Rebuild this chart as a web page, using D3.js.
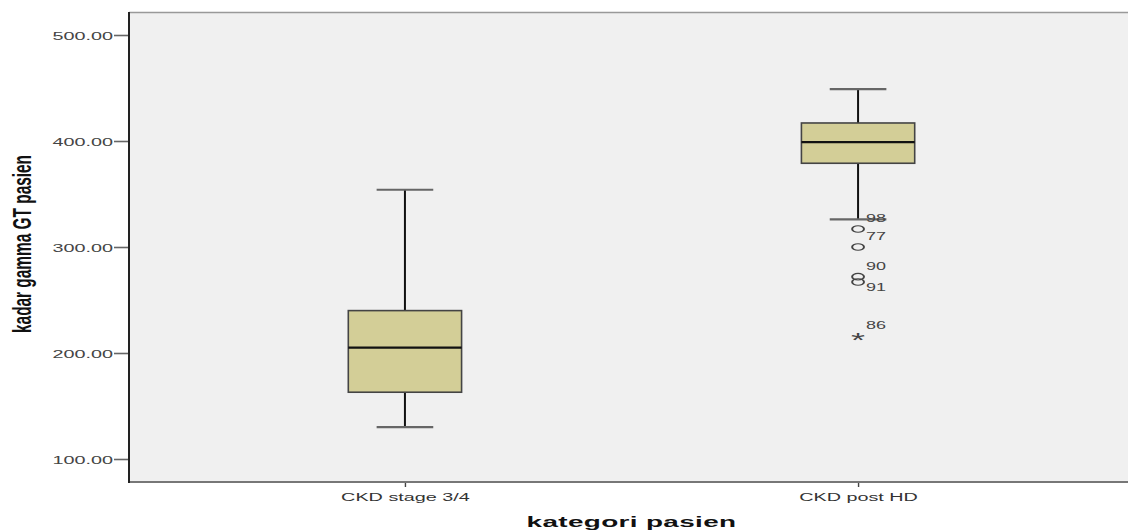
<!DOCTYPE html>
<html>
<head>
<meta charset="utf-8">
<script src="https://cdn.jsdelivr.net/npm/d3@7"></script>
<style>
  html, body { margin: 0; padding: 0; background: #fff; }
  svg { display: block; }
</style>
</head>
<body>
<svg id="chart" width="1128" height="531"></svg>
<script>
// ---- data ----
const categories = ["CKD stage 3/4", "CKD post HD"];
const whiskerLow  = [130, 326];
const q1          = [163, 379];
const median      = [205, 399];
const q3          = [240, 417];
const whiskerHigh = [354, 449];

const outlierCat    = ["CKD post HD", "CKD post HD", "CKD post HD", "CKD post HD", "CKD post HD"];
const outlierIds    = ["98", "77", "90", "91", "86"];
const outlierValues = [317, 300, 272, 267, 216];
const outlierKind   = ["circle", "circle", "circle", "circle", "star"];

const yTicks = [100, 200, 300, 400, 500];
const yTitle = "kadar gamma GT pasien";
const xTitle = "kategori pasien";

// ---- layout ----
const W = 1128, H = 531;
const plotLeft = 129, plotRight = 1134, plotTop = 12, plotBottom = 482;
const SX = 1.8; // horizontal stretch of the original image

const svg = d3.select("#chart");

const x = d3.scalePoint().domain(categories).range([plotLeft, plotRight]).padding(0.609);
const y = d3.scaleLinear().domain([100, 500]).range([459, 35]);
const step = x.step();
const boxW = step * 0.25;
const capW = boxW / 2;

// plot background
svg.append("rect")
  .attr("x", plotLeft).attr("y", plotTop)
  .attr("width", W - plotLeft + 10).attr("height", plotBottom - plotTop)
  .attr("fill", "#f0f0f0");

// top border
svg.append("line")
  .attr("x1", plotLeft).attr("x2", W + 10)
  .attr("y1", plotTop + 0.5).attr("y2", plotTop + 0.5)
  .attr("stroke", "#999").attr("stroke-width", 1.6);

// ---- boxes ----
const g = svg.append("g");
categories.forEach((c, i) => {
  const cx = x(c);
  g.append("line").attr("x1", cx).attr("x2", cx)
    .attr("y1", y(q3[i])).attr("y2", y(whiskerHigh[i]))
    .attr("stroke", "#111").attr("stroke-width", 2);
  g.append("line").attr("x1", cx).attr("x2", cx)
    .attr("y1", y(q1[i])).attr("y2", y(whiskerLow[i]))
    .attr("stroke", "#111").attr("stroke-width", 2);
  [whiskerHigh[i], whiskerLow[i]].forEach(v => {
    g.append("line").attr("x1", cx - capW / 2).attr("x2", cx + capW / 2)
      .attr("y1", y(v)).attr("y2", y(v))
      .attr("stroke", "#666").attr("stroke-width", 2.2);
  });
  g.append("rect")
    .attr("x", cx - boxW / 2).attr("y", y(q3[i]))
    .attr("width", boxW).attr("height", y(q1[i]) - y(q3[i]))
    .attr("fill", "#d3ce97").attr("stroke", "#444").attr("stroke-width", 1.6);
  g.append("line").attr("x1", cx - boxW / 2).attr("x2", cx + boxW / 2)
    .attr("y1", y(median[i])).attr("y2", y(median[i]))
    .attr("stroke", "#111").attr("stroke-width", 2.2);
});

// ---- outliers ----
let prevY = null;
outlierValues.forEach((v, i) => {
  const cx = x(outlierCat[i]);
  const cy = y(v);
  if (outlierKind[i] === "circle") {
    g.append("circle")
      .attr("r", 3.3)
      .attr("transform", `translate(${cx},${cy}) scale(${SX},1)`)
      .attr("fill", "none").attr("stroke", "#444").attr("stroke-width", 1.1);
  } else {
    g.append("text")
      .attr("transform", `translate(${cx},${cy + 11}) scale(${SX},1)`)
      .attr("text-anchor", "middle")
      .attr("font-family", "Liberation Sans, Arial, sans-serif")
      .attr("font-size", 20)
      .attr("fill", "#444")
      .text("*");
  }
  const below = prevY !== null && Math.abs(cy - prevY) < 8;
  const ly = below ? cy + 9 : cy - 7;
  g.append("text")
    .attr("transform", `translate(${cx + 8},${ly}) scale(${SX},1)`)
    .attr("font-family", "Liberation Sans, Arial, sans-serif")
    .attr("font-size", 10)
    .attr("fill", "#444")
    .text(outlierIds[i]);
  prevY = cy;
});

// ---- y axis ----
const yAxis = svg.append("g")
  .attr("transform", `translate(${plotLeft},0)`)
  .call(d3.axisLeft(y).tickValues(yTicks).tickFormat(d3.format(".2f")).tickSize(15).tickPadding(0));
yAxis.select(".domain").remove();
yAxis.selectAll(".tick line").attr("stroke", "#666").attr("stroke-width", 1.6);
yAxis.selectAll(".tick text")
  .attr("x", null).attr("dy", null)
  .attr("transform", `translate(-16,4) scale(${SX},1)`)
  .attr("font-family", "Liberation Sans, Arial, sans-serif")
  .attr("font-size", 11)
  .attr("fill", "#444")
  .attr("text-anchor", "end");

// ---- x axis ----
const xAxis = svg.append("g")
  .attr("transform", `translate(0,${plotBottom})`)
  .call(d3.axisBottom(x).tickSize(5).tickPadding(0));
xAxis.select(".domain").remove();
xAxis.selectAll(".tick line").attr("stroke", "#444").attr("stroke-width", 1.4);
xAxis.selectAll(".tick text")
  .attr("y", null).attr("dy", null)
  .attr("transform", `translate(0,19) scale(${SX},1)`)
  .attr("font-family", "Liberation Sans, Arial, sans-serif")
  .attr("font-size", 11)
  .attr("fill", "#333");

// bottom border
svg.append("line")
  .attr("x1", plotLeft).attr("x2", W + 10)
  .attr("y1", plotBottom).attr("y2", plotBottom)
  .attr("stroke", "#777").attr("stroke-width", 2);
// left border
svg.append("line")
  .attr("x1", plotLeft).attr("x2", plotLeft)
  .attr("y1", plotTop).attr("y2", plotBottom + 1)
  .attr("stroke", "#222").attr("stroke-width", 2);

// ---- titles ----
svg.append("text")
  .attr("transform", `translate(${(plotLeft + W) / 2 + 3},527) scale(${SX},1)`)
  .attr("text-anchor", "middle")
  .attr("font-family", "Liberation Sans, Arial, sans-serif")
  .attr("font-size", 15.5)
  .attr("font-weight", "bold")
  .attr("letter-spacing", 0.2)
  .attr("fill", "#111")
  .text(xTitle);

svg.append("text")
  .attr("transform", `translate(${31},${244}) scale(${SX},1) rotate(-90)`)
  .attr("text-anchor", "middle")
  .attr("font-family", "Liberation Sans, Arial, sans-serif")
  .attr("font-size", 14)
  .attr("font-weight", "bold")
  .attr("textLength", 178)
  .attr("lengthAdjust", "spacingAndGlyphs")
  .attr("fill", "#111")
  .text(yTitle);
</script>
</body>
</html>
